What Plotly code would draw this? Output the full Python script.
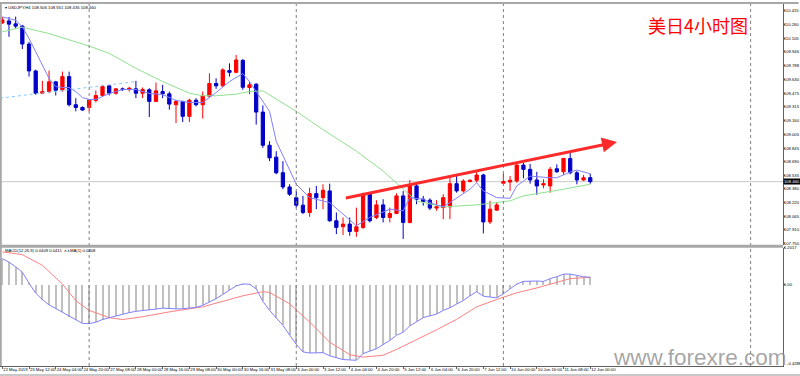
import plotly.graph_objects as go

# ---------------- data ----------------
bars = list(range(89))
opens = [110.278,110.301,110.267,110.241,110.036,109.728,109.473,109.492,109.603,109.512,
         109.663,109.341,109.310,109.310,109.390,109.447,109.557,109.473,109.523,109.515,
         109.523,109.473,109.512,109.379,109.492,109.466,109.341,109.379,109.208,109.393,
         109.341,109.439,109.584,109.557,109.732,109.712,109.849,109.538,109.576,109.257,
         108.877,108.741,108.562,108.399,108.277,108.191,108.107,108.323,108.277,108.354,
         108.012,107.944,107.974,107.890,107.936,108.316,108.050,108.194,108.050,108.095,
         108.297,107.993,108.411,108.259,108.248,108.157,108.163,108.172,108.437,108.354,
         108.460,108.476,108.536,107.999,108.134,108.442,108.456,108.468,108.650,108.601,
         108.479,108.422,108.411,108.608,108.573,108.726,108.562,108.479,108.506]
highs = [110.347,110.347,110.350,110.256,110.062,109.743,109.614,109.732,109.614,109.720,
         109.720,109.416,109.322,109.405,109.504,109.569,109.569,109.530,109.538,109.546,
         109.614,109.538,109.530,109.595,109.569,109.492,109.398,109.387,109.409,109.416,
         109.492,109.701,109.644,109.758,109.815,109.910,109.865,109.606,109.587,109.333,
         108.923,108.809,108.695,108.430,108.354,108.297,108.391,108.411,108.430,108.437,
         108.107,108.050,108.050,108.163,108.334,108.334,108.248,108.259,108.163,108.327,
         108.354,108.479,108.437,108.297,108.270,108.248,108.316,108.513,108.536,108.487,
         108.487,108.581,108.551,108.240,108.220,108.551,108.525,108.664,108.676,108.664,
         108.573,108.487,108.627,108.658,108.733,108.809,108.581,108.536,108.551]
lows = [110.267,110.119,110.213,109.979,109.663,109.455,109.462,109.473,109.447,109.492,
        109.322,109.265,109.273,109.265,109.367,109.436,109.447,109.455,109.500,109.492,
        109.416,109.416,109.200,109.371,109.416,109.284,109.131,109.143,109.143,109.322,
        109.182,109.416,109.523,109.546,109.663,109.701,109.512,109.462,109.113,108.847,
        108.695,108.544,108.373,108.297,108.163,108.088,108.057,108.145,108.145,108.001,
        107.860,107.849,107.841,107.829,107.917,107.993,108.031,107.993,107.993,108.088,
        107.804,107.981,108.202,108.185,108.134,108.126,108.031,108.031,108.334,108.334,
        108.456,108.448,107.867,107.974,108.126,108.430,108.354,108.448,108.498,108.437,
        108.308,108.384,108.334,108.562,108.536,108.544,108.430,108.468,108.435]
closes = [110.313,110.264,110.241,110.036,109.728,109.473,109.492,109.603,109.507,109.663,
          109.341,109.310,109.280,109.398,109.447,109.549,109.473,109.523,109.515,109.530,
          109.473,109.515,109.379,109.500,109.466,109.348,109.379,109.208,109.393,109.341,
          109.439,109.584,109.557,109.740,109.712,109.854,109.541,109.569,109.257,108.877,
          108.733,108.562,108.399,108.316,108.191,108.107,108.323,108.277,108.362,108.012,
          107.936,107.974,107.890,107.944,108.316,108.012,108.194,108.050,108.095,108.297,
          107.993,108.411,108.259,108.232,108.157,108.172,108.277,108.437,108.354,108.468,
          108.476,108.536,107.999,108.145,108.194,108.460,108.476,108.650,108.601,108.479,
          108.411,108.437,108.601,108.573,108.726,108.562,108.479,108.505,108.460]

# fast moving average (blue) read at sample bars
ma_fast_x = [0,2,3,4,5,6,7,8,9,10,11,12,13,14,15,16,17,18,20,22,24,26,28,30,32,34,36,37,
             38,40,41,43,44,46,49,51,53,55,58,60,61,63,64,66,67,70,71,72,74,76,77,79,82,83,85,86,88]
ma_fast_y = [110.347,110.309,110.233,110.100,109.948,109.797,109.641,109.549,109.538,109.538,
             109.492,109.424,109.401,109.401,109.436,109.470,109.492,109.515,109.515,109.470,
             109.458,109.390,109.367,109.367,109.481,109.606,109.698,109.606,109.492,109.265,
             108.923,108.581,108.430,108.277,108.220,108.088,107.955,108.050,108.145,108.126,
             108.277,108.259,108.220,108.171,108.220,108.373,108.448,108.354,108.277,108.270,
             108.411,108.524,108.505,108.505,108.570,108.593,108.551]
# slow moving average (green) read at sample bars
ma_slow_x = [0,3,7,13,16,20,24,28,30,32,35,37,39,44,48,53,57,60,62,66,71,76,78,84,88]
ma_slow_y = [110.176,110.229,110.156,110.013,109.929,109.758,109.606,109.473,109.444,109.444,
             109.462,109.492,109.500,109.265,109.056,108.809,108.581,108.373,108.240,108.171,
             108.194,108.240,108.297,108.373,108.430]

macd_vals = [0.141,0.122,0.097,0.068,0.010,-0.044,-0.078,-0.107,-0.126,-0.146,
             -0.170,-0.190,-0.206,-0.207,-0.199,-0.185,-0.175,-0.165,-0.156,-0.148,
             -0.141,-0.138,-0.136,-0.129,-0.124,-0.127,-0.128,-0.127,-0.125,-0.120,
             -0.109,-0.092,-0.073,-0.051,-0.029,-0.005,0.005,0.004,-0.021,-0.088,
             -0.136,-0.175,-0.216,-0.268,-0.317,-0.358,-0.364,-0.363,-0.362,-0.379,
             -0.391,-0.399,-0.401,-0.403,-0.367,-0.352,-0.341,-0.319,-0.297,-0.269,
             -0.253,-0.219,-0.195,-0.175,-0.165,-0.156,-0.136,-0.122,-0.102,-0.083,
             -0.058,-0.036,-0.060,-0.066,-0.069,-0.047,-0.021,0.005,0.019,0.022,
             0.021,0.019,0.034,0.044,0.058,0.058,0.050,0.044,0.0409]
signal_x = [0,3,6,9,11,13,16,18,21,25,30,33,36,39,40,43,46,49,52,54,57,59,62,65,68,71,74,77,80,83,85,88]
signal_y = [0.177,0.162,0.105,0.005,-0.084,-0.136,-0.175,-0.185,-0.170,-0.144,-0.117,-0.088,
            -0.058,-0.036,-0.040,-0.101,-0.198,-0.306,-0.373,-0.386,-0.376,-0.345,-0.293,
            -0.240,-0.184,-0.117,-0.078,-0.042,-0.016,0.012,0.034,0.0411]

x_tick_bars = list(range(0, 89, 4))
x_tick_text = ["22 May 2019","23 May 12:00","24 May 04:00","24 May 20:00","27 May 08:00",
               "28 May 00:00","28 May 16:00","29 May 08:00","30 May 00:00","30 May 16:00",
               "31 May 08:00","3 Jun 00:00","3 Jun 12:00","4 Jun 04:00","4 Jun 20:00",
               "5 Jun 12:00","6 Jun 04:00","6 Jun 20:00","7 Jun 12:00","10 Jun 00:00",
               "10 Jun 16:00","11 Jun 08:00","12 Jun 00:00"]
price_ticks = [110.415,110.260,110.105,109.946,109.788,109.630,109.475,109.315,109.160,
               109.005,108.845,108.690,108.535,108.380,108.220,108.065,107.910,107.750]
price_tick_text = ["%.3f" % v for v in price_ticks]
last_price = 108.460
week_separators = [13, 44, 75, 112]
trend_arrow = {"x0": 51.2, "y0": 108.270, "x1": 92.0, "y1": 108.915}
trend_dotted = {"x0": -0.34, "y0": 109.416, "x1": 20.0, "y1": 109.606}

# ---------------- geometry helpers ----------------
H_PLOT = 366.0
def py(px):  # pixel row -> paper fraction
    return 1 - px / H_PLOT

FONT = "Liberation Sans, Arial, sans-serif"
TSZ = 4.2

fig = go.Figure()

fig.add_trace(go.Candlestick(
    x=bars, open=opens, high=highs, low=lows, close=closes,
    increasing=dict(line=dict(color="#ff0000", width=1), fillcolor="#ff0000"),
    decreasing=dict(line=dict(color="#0000c8", width=1), fillcolor="#0000c8"),
    whiskerwidth=0, xaxis="x", yaxis="y", showlegend=False, hoverinfo="skip"))

fig.add_trace(go.Scatter(x=ma_slow_x, y=ma_slow_y, mode="lines",
                         line=dict(color="#8fe08f", width=1), xaxis="x", yaxis="y",
                         showlegend=False, hoverinfo="skip"))
fig.add_trace(go.Scatter(x=ma_fast_x, y=ma_fast_y, mode="lines",
                         line=dict(color="#8080ff", width=1), xaxis="x", yaxis="y",
                         showlegend=False, hoverinfo="skip"))

fig.add_trace(go.Bar(x=bars, y=macd_vals, width=0.3, marker=dict(color="#c0c0c0", line=dict(width=0)),
                     xaxis="x2", yaxis="y2", showlegend=False, hoverinfo="skip"))
fig.add_trace(go.Scatter(x=signal_x, y=signal_y, mode="lines", line=dict(color="#ff8080", width=1),
                         xaxis="x2", yaxis="y2", showlegend=False, hoverinfo="skip"))
fig.add_trace(go.Scatter(x=bars, y=macd_vals, mode="lines", line=dict(color="#8080ff", width=1),
                         xaxis="x2", yaxis="y2", showlegend=False, hoverinfo="skip"))

XR = [-0.344, 116.85]
shapes = []
for s in week_separators:
    shapes.append(dict(type="line", xref="x", yref="paper", x0=s, x1=s, y0=0, y1=1,
                       line=dict(color="#808080", width=1, dash="dot")))
shapes.append(dict(type="line", xref="paper", yref="y", x0=0, x1=1, y0=last_price, y1=last_price,
                   line=dict(color="#c8c8c8", width=1), layer="below"))
shapes.append(dict(type="line", xref="x", yref="y", x0=trend_dotted["x0"], y0=trend_dotted["y0"],
                   x1=trend_dotted["x1"], y1=trend_dotted["y1"],
                   line=dict(color="#87c8fa", width=1, dash="dot")))
shapes.append(dict(type="rect", xref="paper", yref="paper", x0=0, x1=1, y0=py(247), y1=py(244),
                   fillcolor="#a8a8a8", line=dict(width=0)))
shapes.append(dict(type="rect", xref="paper", yref="paper", x0=0, x1=1.02, y0=py(2), y1=py(0),
                   fillcolor="#a8a8a8", line=dict(width=0)))
shapes.append(dict(type="line", xref="paper", yref="paper", x0=0.001, x1=0.001, y0=0, y1=1,
                   line=dict(color="#a8a8a8", width=2)))
shapes.append(dict(type="rect", xref="paper", yref="paper", x0=0, x1=1.03, y0=py(376), y1=py(374),
                   fillcolor="#c8c8c8", line=dict(width=0)))

annotations = []
annotations.append(dict(xref="x", yref="y", axref="x", ayref="y",
                        x=trend_arrow["x1"], y=trend_arrow["y1"],
                        ax=trend_arrow["x0"], ay=trend_arrow["y0"],
                        showarrow=True, arrowhead=2, arrowsize=1, arrowwidth=3,
                        arrowcolor="#ff2a2a", text=""))
annotations.append(dict(xref="paper", yref="paper", x=0.004, y=py(5.5), xanchor="left", yanchor="middle",
                        text="▾ USDJPY,H4 108.506 108.551 108.435 108.460", showarrow=False,
                        font=dict(family=FONT, size=TSZ, color="#000000")))
annotations.append(dict(xref="paper", yref="paper", x=0.004, y=py(250), xanchor="left", yanchor="middle",
                        text="MACD(12,26,9) 0.0409 0.0411  ∧∧MA(1) 0.0408", showarrow=False,
                        font=dict(family=FONT, size=TSZ, color="#000000")))
annotations.append(dict(xref="paper", yref="paper", x=699/784, y=py(23), xanchor="center", yanchor="middle",
                        text="美日4小时图", showarrow=False,
                        font=dict(family="Noto Sans CJK SC", size=18, color="#ff0000")))
annotations.append(dict(xref="paper", yref="y", x=1.0, y=last_price, xanchor="left", yanchor="middle",
                        text="108.460", showarrow=False, bgcolor="#000000", borderpad=0,
                        font=dict(family=FONT, size=TSZ, color="#ffffff")))
annotations.append(dict(xref="paper", yref="paper", x=1.002, y=py(363.5), xanchor="left", yanchor="middle",
                        text="-0.4288", showarrow=False,
                        font=dict(family=FONT, size=TSZ, color="#000000")))
annotations.append(dict(xref="paper", yref="paper", x=790/784, y=py(357), xanchor="right", yanchor="middle",
                        text="www.forexre.com", showarrow=False,
                        font=dict(family="Liberation Sans, Arial, sans-serif", size=22.5,
                                  color="rgba(150,150,150,0.85)")))

fig.update_layout(
    width=800, height=376,
    margin=dict(l=0, r=16, t=0, b=10),
    paper_bgcolor="#ffffff", plot_bgcolor="#ffffff",
    showlegend=False, bargap=0,
    xaxis=dict(domain=[0, 1], range=XR, anchor="y", showticklabels=False, showgrid=False,
               zeroline=False, rangeslider=dict(visible=False), fixedrange=True),
    xaxis2=dict(domain=[0, 1], range=XR, anchor="y2", matches="x", showgrid=False, zeroline=False,
                tickmode="array", tickvals=x_tick_bars, ticktext=x_tick_text, tickangle=0,
                ticks="outside", ticklen=2, tickcolor="#606060",
                ticklabelposition="outside right", ticklabelstandoff=-1,
                tickfont=dict(family=FONT, size=TSZ, color="#000000"),
                showline=True, linecolor="#606060", linewidth=1),
    yaxis=dict(domain=[py(244), py(2)], range=[107.7385, 110.4947], side="right", anchor="x",
               showgrid=False, zeroline=False, tickmode="array", tickvals=price_ticks,
               ticktext=price_tick_text, ticks="outside", ticklen=1, tickcolor="#606060",
               ticklabelstandoff=-2,
               tickfont=dict(family=FONT, size=TSZ, color="#000000"),
               showline=True, linecolor="#606060", linewidth=1),
    yaxis2=dict(domain=[0, py(247)], range=[-0.4335, 0.1995], side="right", anchor="x2",
                showgrid=False, zeroline=False, tickmode="array", tickvals=[0.2017 - 0.004, 0.0],
                ticktext=["0.2017", "0.00"], ticks="outside", ticklen=1, tickcolor="#606060",
                ticklabelstandoff=-2,
                tickfont=dict(family=FONT, size=TSZ, color="#000000"),
                showline=True, linecolor="#606060", linewidth=1),
    shapes=shapes, annotations=annotations,
)

fig.write_html("out.html", config={"displayModeBar": False, "staticPlot": True},
               post_script="document.body.style.margin='0';document.body.style.padding='0';")
